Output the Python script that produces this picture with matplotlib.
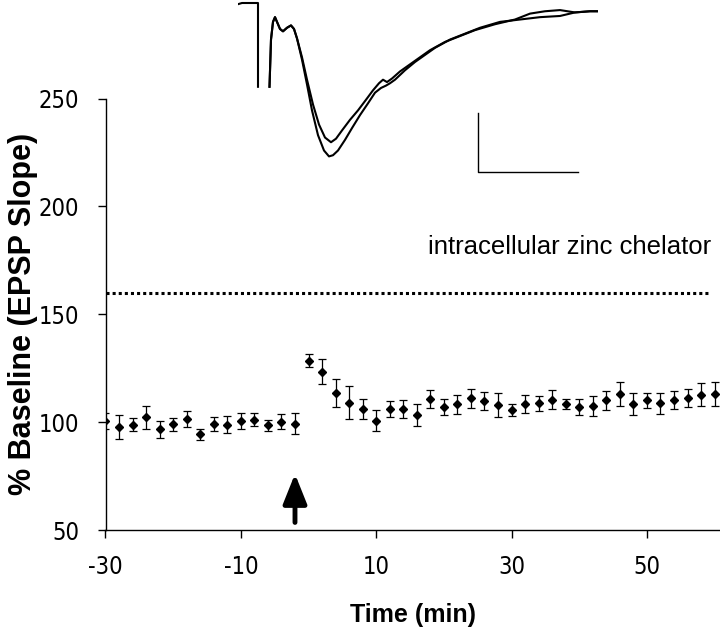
import matplotlib
matplotlib.use("Agg")
import matplotlib.pyplot as plt
import numpy as np

# time points (min) and % baseline EPSP slope, mean +/- error
times = [-30, -28, -26, -24, -22, -20, -18, -16, -14, -12, -10, -8, -6, -4, -2,
         0, 2, 4, 6, 8, 10, 12, 14, 16, 18, 20, 22, 24, 26, 28, 30,
         32, 34, 36, 38, 40, 42, 44, 46, 48, 50, 52, 54, 56, 58, 60]
slope = [100.5, 97.9, 98.7, 102.2, 96.7, 99.0, 101.3, 94.4, 99.1, 98.8,
         100.5, 101.1, 98.5, 100.2, 99.3,
         128.5, 123.4, 113.6, 109.0, 106.2, 100.7, 106.1, 106.1, 103.4, 110.6,
         107.0, 108.3, 111.0, 109.8, 108.1, 105.6, 108.3, 108.7, 110.4, 108.4,
         107.0, 107.6, 110.1, 112.9, 108.5, 110.1, 108.7, 110.3, 111.3, 112.7, 112.9]
slope_err = [3.8, 5.6, 3.0, 5.4, 4.0, 3.0, 3.7, 2.6, 3.4, 4.0,
             3.7, 3.1, 2.4, 3.6, 5.0,
             3.0, 5.8, 6.5, 7.6, 4.7, 4.8, 3.9, 4.1, 5.1, 4.1,
             3.7, 4.5, 4.4, 4.2, 5.5, 2.6, 4.2, 3.6, 4.4, 2.3,
             3.7, 4.6, 4.5, 5.5, 5.1, 3.6, 5.0, 4.3, 4.2, 5.3, 5.5]

threshold = 160
tetanus_time = -2
y_ticks = [50, 100, 150, 200, 250]
x_ticks = [-30, -10, 10, 30, 50]

# example EPSP traces (ms, mV) shown above the plot
trace_ms_a = [0, 0.4, 0.8, 1.2, 1.6, 2.0, 2.0, np.nan, 3.15, 3.3, 3.5, 3.7, 3.9, 4.2, 4.5,
              4.9, 5.3, 5.6, 5.9, 6.4, 6.9, 7.4, 8.0, 8.6, 9.1, 9.5, 10.0, 10.7, 11.4,
              12.2, 13.0, 13.7, 14.3, 14.8, 15.2, 15.7, 16.7, 17.7, 18.7, 19.7, 21.2,
              22.7, 24.2, 26.2, 28.2, 30.2, 32.2, 33.7, 35.2, 35.9]
trace_mv_a = [-0.01, 0, 0, 0, 0, 0, -0.71, np.nan, -0.71, -0.31, -0.16, -0.12, -0.16, -0.22, -0.24,
              -0.21, -0.19, -0.22, -0.30, -0.48, -0.69, -0.91, -1.12, -1.25, -1.30, -1.29, -1.25,
              -1.16, -1.06, -0.95, -0.85, -0.76, -0.72, -0.70, -0.68, -0.65, -0.57, -0.50,
              -0.44, -0.38, -0.31, -0.26, -0.21, -0.16, -0.14, -0.12, -0.11, -0.08, -0.07, -0.07]
trace_ms_b = [3.15, 3.3, 3.5, 3.7, 3.9, 4.2, 4.5, 4.9, 5.3, 5.6, 5.9, 6.4, 6.9, 7.5, 8.1,
              8.7, 9.3, 9.8, 10.4, 11.2, 12.0, 12.8, 13.5, 14.1, 14.5, 14.9, 15.4, 16.2,
              17.2, 18.2, 19.2, 20.7, 22.2, 23.7, 25.7, 27.7, 29.2, 30.7, 32.2, 33.7, 35.2, 35.9]
trace_mv_b = [-0.71, -0.31, -0.16, -0.12, -0.16, -0.22, -0.24, -0.21, -0.19, -0.22, -0.30,
              -0.46, -0.65, -0.86, -1.03, -1.14, -1.18, -1.15, -1.08, -0.99, -0.91, -0.82,
              -0.74, -0.68, -0.65, -0.67, -0.64, -0.58, -0.52, -0.46, -0.40, -0.33, -0.28,
              -0.23, -0.18, -0.14, -0.09, -0.07, -0.06, -0.08, -0.07, -0.07]
bar_ms = 10
bar_mv = 0.5

plt.rcParams['axes.unicode_minus'] = False
narrow = ['Liberation Sans Narrow', 'DejaVu Sans']
bold = ['Liberation Sans', 'DejaVu Sans']

fig = plt.figure(figsize=(7.2, 6.44), dpi=100)
ax = fig.add_axes([105.5 / 720, 114 / 644, 614.5 / 720, 431.5 / 644])

ax.errorbar(times, slope, yerr=slope_err, fmt='D', color='k', ms=4.5,
            ecolor='k', elinewidth=0.9, capsize=3.2, capthick=0.9, zorder=3)
ax.axhline(threshold, xmin=0, xmax=0.985, color='k', ls=(0, (1, 1)), lw=2.2)
ax.text(38.5, 181, 'intracellular zinc chelator', ha='center', va='center',
        fontsize=18.5, family=bold)
ax.annotate('', xy=(tetanus_time, 76), xytext=(tetanus_time, 53.5),
            arrowprops=dict(arrowstyle='-|>,head_width=0.4,head_length=1.0',
                            lw=3.5, color='k', mutation_scale=18, shrinkA=0, shrinkB=0))

ax.set_xlim(-30, 60.8)
ax.set_ylim(50, 250)
ax.set_xticks(x_ticks)
ax.set_yticks(y_ticks)
for s in ['top', 'right']:
    ax.spines[s].set_visible(False)
for s in ['left', 'bottom']:
    ax.spines[s].set_linewidth(1)
ax.tick_params(axis='x', direction='out', length=6, width=1, pad=12)
ax.tick_params(axis='y', direction='out', length=6, width=1, pad=13)
for lab in ax.get_xticklabels() + ax.get_yticklabels():
    lab.set_fontfamily(narrow)
    lab.set_fontstretch('condensed')
    lab.set_fontsize(17)
ax.set_xlabel('Time (min)', fontsize=18, fontweight='bold', family=bold, labelpad=17)
fig.text(23 / 720, 1 - 314 / 644, '% Baseline (EPSP Slope)', rotation=90,
         ha='center', va='center', fontsize=22, fontweight='bold', family=bold)

# inset traces
ins = fig.add_axes([238 / 720, (644 - 180) / 644, 360 / 720, 180 / 644])
ins.plot(trace_ms_a, trace_mv_a, color='k', lw=1.5)
ins.plot(trace_ms_b, trace_mv_b, color='k', lw=1.5)
ins.plot([24, 24, 24 + bar_ms], [-0.93, -0.93 - bar_mv, -0.93 - bar_mv], color='k', lw=1)
ins.set_xlim(0, 36)
ins.set_ylim(-1.5, 0.0254)
ins.axis('off')
ins.patch.set_alpha(0)

fig.savefig('out.png', dpi=100)
